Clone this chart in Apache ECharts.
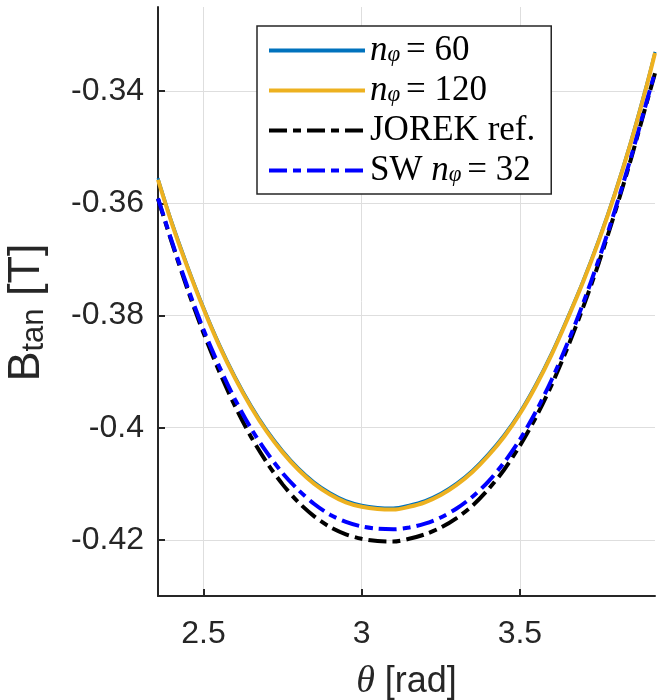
<!DOCTYPE html>
<html>
<head>
<meta charset="utf-8">
<script src="https://cdn.jsdelivr.net/npm/echarts@6/dist/echarts.min.js"></script>
<style>
html,body{margin:0;padding:0;background:#fff;}
#chart{width:662px;height:700px;}
</style>
</head>
<body>
<div id="chart"></div>
<script>
// ---- data ----
const theta = [2.3562, 2.40, 2.45, 2.50, 2.55, 2.60, 2.65, 2.70, 2.75, 2.80, 2.85, 2.90, 2.95, 3.00, 3.05, 3.10, 3.15, 3.20, 3.25, 3.30, 3.35, 3.40, 3.45, 3.50, 3.55, 3.60, 3.65, 3.70, 3.75, 3.80, 3.85, 3.90, 3.9270];
const n60 = [-0.3555, -0.3633, -0.3712, -0.3785, -0.3851, -0.3909, -0.3960, -0.4004, -0.4041, -0.4072, -0.4097, -0.4116, -0.4130, -0.4138, -0.4142, -0.4143, -0.4138, -0.4130, -0.4117, -0.4099, -0.4076, -0.4047, -0.4013, -0.3972, -0.3923, -0.3867, -0.3804, -0.3737, -0.3663, -0.3581, -0.3490, -0.3389, -0.3330];
const n120 = [-0.3558, -0.3636, -0.3715, -0.3788, -0.3854, -0.3912, -0.3963, -0.4007, -0.4044, -0.4075, -0.4100, -0.4119, -0.4133, -0.4141, -0.4145, -0.4146, -0.4141, -0.4133, -0.4120, -0.4102, -0.4079, -0.4050, -0.4016, -0.3975, -0.3926, -0.3870, -0.3807, -0.3740, -0.3666, -0.3584, -0.3493, -0.3392, -0.3332];
const jorek = [-0.3592, -0.3670, -0.3754, -0.3831, -0.3900, -0.3962, -0.4016, -0.4062, -0.4101, -0.4133, -0.4158, -0.4177, -0.4190, -0.4198, -0.4202, -0.4203, -0.4198, -0.4190, -0.4178, -0.4161, -0.4139, -0.4110, -0.4075, -0.4032, -0.3982, -0.3924, -0.3858, -0.3785, -0.3705, -0.3617, -0.3523, -0.3422, -0.3368];
const sw32 = [-0.3591, -0.3668, -0.3750, -0.3825, -0.3891, -0.3950, -0.4001, -0.4044, -0.4081, -0.4111, -0.4136, -0.4155, -0.4168, -0.4176, -0.4180, -0.4181, -0.4178, -0.4171, -0.4160, -0.4144, -0.4123, -0.4096, -0.4062, -0.4021, -0.3972, -0.3915, -0.3850, -0.3778, -0.3699, -0.3613, -0.3520, -0.3420, -0.3366];
const seriesNames = ['n_φ = 60', 'n_φ = 120', 'JOREK ref.', 'SW n_φ = 32'];
const xTicks = [2.5, 3, 3.5];
const yTicks = [-0.42, -0.40, -0.38, -0.36, -0.34];
const xLimits = [2.3562, 3.9270];
const yLimits = [-0.430, -0.325];

// ---- chart ----
const zip = (xs, ys) => xs.map((x, i) => [x, ys[i]]);
const axisColor = '#262626';
const gridColor = '#dedede';
const sans = '"Liberation Sans", Arial, sans-serif';
const serif = '"Liberation Serif", "Times New Roman", serif';

const legendRich = {
  t: {fontFamily: serif, fontSize: 35, color: '#000', lineHeight: 32},
  i: {fontFamily: serif, fontSize: 35, fontStyle: 'italic', color: '#000', lineHeight: 32},
  s: {fontFamily: serif, fontSize: 23, fontStyle: 'italic', color: '#000', lineHeight: 10, verticalAlign: 'bottom'}
};
const legendFmt = {
  'n_φ = 60': '{i|n}{s|φ }{t|= 60}',
  'n_φ = 120': '{i|n}{s|φ }{t|= 120}',
  'JOREK ref.': '{t|JOREK ref.}',
  'SW n_φ = 32': '{t|SW }{i|n}{s|φ }{t|= 32}'
};

const chart = echarts.init(document.getElementById('chart'), null, {renderer: 'canvas'});
chart.setOption({
  animation: false,
  backgroundColor: '#fff',
  grid: {left: 158, right: 7, top: 7, bottom: 104, outerBoundsMode: 'none', containLabel: false},
  xAxis: {
    type: 'value', min: xLimits[0], max: xLimits[1],
    name: '{th|θ}{r| [rad]}', nameLocation: 'middle', nameGap: 67,
    nameTextStyle: {rich: {
      th: {fontFamily: serif, fontStyle: 'italic', fontSize: 38, color: '#262626'},
      r: {fontFamily: sans, fontSize: 36, color: '#262626'}
    }},
    axisLine: {show: true, onZero: false, lineStyle: {color: axisColor, width: 2}},
    axisTick: {show: true, inside: true, length: 7, customValues: xTicks, lineStyle: {color: axisColor, width: 2}},
    axisLabel: {customValues: xTicks, margin: 22, fontFamily: sans, fontSize: 32, color: '#262626', formatter: v => String(v)},
    splitLine: {show: true, lineStyle: {color: gridColor, width: 1}}
  },
  yAxis: {
    type: 'value', min: yLimits[0], max: yLimits[1],
    name: '{b|B}{sub|tan}{b| [T]}{pad|}', nameLocation: 'middle', nameGap: 108, nameRotate: 90,
    nameTextStyle: {rich: {
      b: {fontFamily: sans, fontSize: 45, color: '#262626', lineHeight: 46},
      sub: {fontFamily: sans, fontSize: 31, color: '#262626', lineHeight: 22, verticalAlign: 'bottom'},
      pad: {width: 22, lineHeight: 46}
    }},
    axisLine: {show: true, onZero: false, lineStyle: {color: axisColor, width: 2}},
    axisTick: {show: true, inside: true, length: 7, customValues: yTicks, lineStyle: {color: axisColor, width: 2}},
    axisLabel: {customValues: yTicks, margin: 14, fontFamily: sans, fontSize: 32, color: '#262626', formatter: v => String(parseFloat(v.toFixed(4)))},
    splitLine: {show: true, lineStyle: {color: gridColor, width: 1}}
  },
  legend: {
    orient: 'vertical', left: 257, top: 26,
    padding: [7, 16, 6, 10], itemGap: 5, itemWidth: 96, itemHeight: 32,
    backgroundColor: '#fff', borderColor: '#262626', borderWidth: 1.5,
    data: seriesNames.map(n => ({name: n, lineStyle: {width: 4}})),
    formatter: name => legendFmt[name],
    textStyle: {rich: legendRich, lineHeight: 32},
    itemStyle: {opacity: 0}
  },
  series: [
    {name: seriesNames[0], type: 'line', data: zip(theta, n60), smooth: 0.3, showSymbol: false, symbol: 'none', color: '#0072BD', lineStyle: {width: 3, color: '#0072BD'}, z: 2},
    {name: seriesNames[1], type: 'line', data: zip(theta, n120), smooth: 0.3, showSymbol: false, symbol: 'none', color: '#EDB120', lineStyle: {width: 4, color: '#EDB120'}, z: 3},
    {name: seriesNames[2], type: 'line', data: zip(theta, jorek), smooth: 0.3, showSymbol: false, symbol: 'none', color: '#000000', lineStyle: {width: 4, color: '#000000', type: [18, 6, 8, 6]}, z: 4},
    {name: seriesNames[3], type: 'line', data: zip(theta, sw32), smooth: 0.3, showSymbol: false, symbol: 'none', color: '#0000FF', lineStyle: {width: 4, color: '#0000FF', type: [18, 6, 8, 6]}, z: 5}
  ]
});
</script>
</body>
</html>
